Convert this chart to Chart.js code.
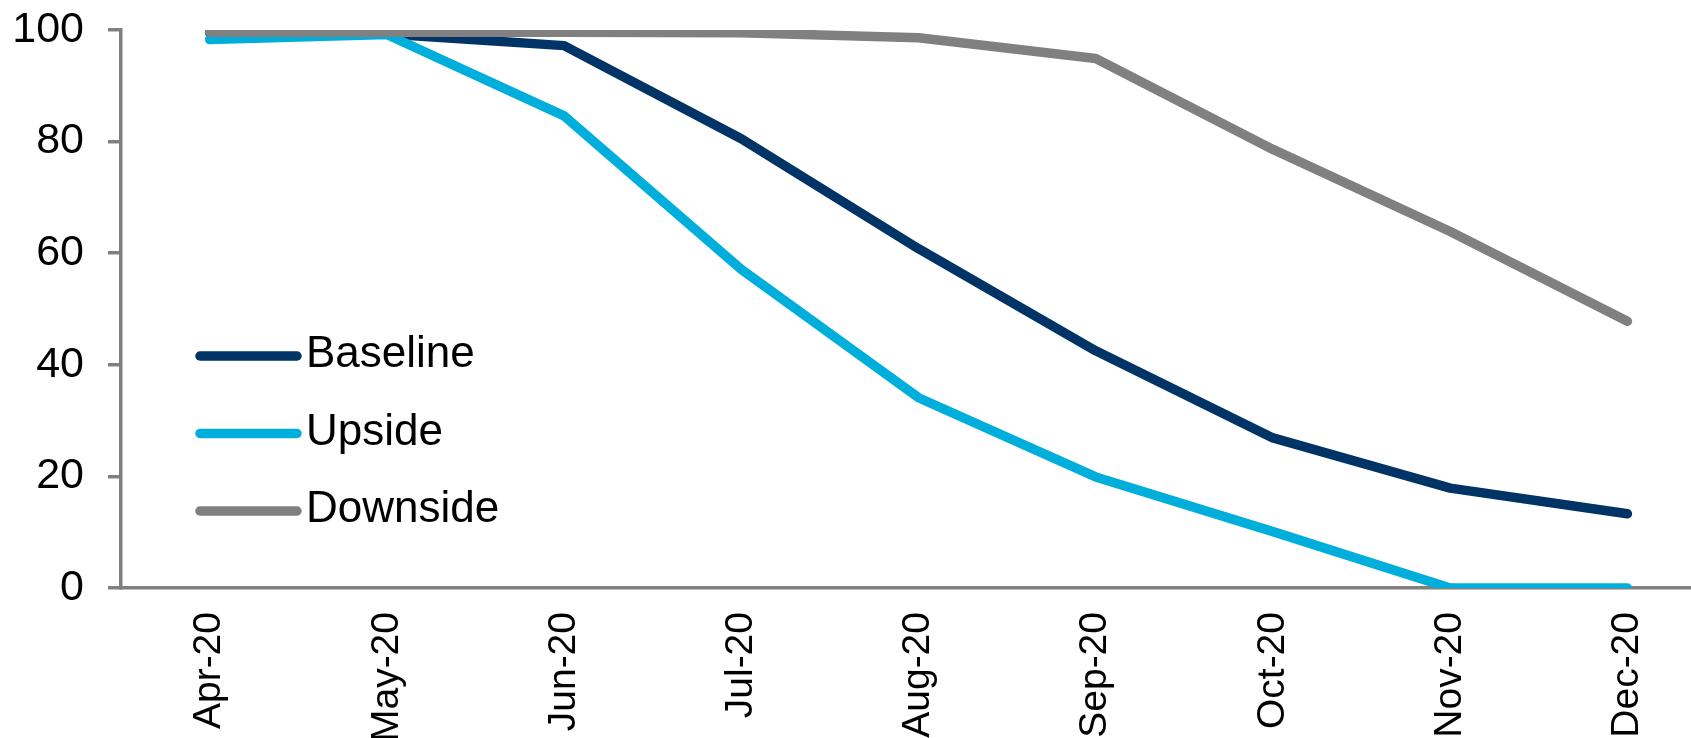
<!DOCTYPE html>
<html>
<head>
<meta charset="utf-8">
<script src="https://cdn.jsdelivr.net/npm/chart.js@4/dist/chart.umd.min.js"></script>
<style>
  html, body { margin: 0; padding: 0; background: #fff; overflow: hidden; }
  #wrap { position: relative; width: 1716px; height: 738px; }
</style>
</head>
<body>
<div id="wrap"><canvas id="c" width="1716" height="738"></canvas></div>
<script>
// Months on the category axis
const months = ['Apr-20', 'May-20', 'Jun-20', 'Jul-20', 'Aug-20', 'Sep-20', 'Oct-20', 'Nov-20', 'Dec-20'];

// Scenario paths (index level)
const baseline = [99.5, 99.3, 97.2, 80.5, 60.8, 42.5, 26.9, 17.9, 13.3];
const upside   = [98.3, 99.2, 84.6, 57.1, 34.1, 19.9, 10.1, 0, 0];
const downside = [99.6, 99.6, 99.6, 99.5, 98.6, 94.9, 78.6, 63.9, 47.8];

// Value axis tick values
const yTicks = [0, 20, 40, 60, 80, 100];

const AXIS_GRAY = '#808080';
const FONT = "'Liberation Sans', Arial, sans-serif";

// Legend drawn inside the plot area, one row per dataset
const insideLegend = {
  id: 'insideLegend',
  afterDatasetsDraw(chart, args, opts) {
    const ctx = chart.ctx;
    ctx.save();
    ctx.lineCap = 'round';
    ctx.font = opts.fontSize + 'px ' + FONT;
    ctx.textBaseline = 'middle';
    ctx.textAlign = 'left';
    chart.data.datasets.forEach((ds, i) => {
      const y = opts.top + i * opts.rowGap;
      ctx.strokeStyle = ds.borderColor;
      ctx.lineWidth = ds.borderWidth;
      ctx.beginPath();
      ctx.moveTo(opts.lineX0, y);
      ctx.lineTo(opts.lineX1, y);
      ctx.stroke();
      ctx.fillStyle = '#000';
      ctx.fillText(ds.label, opts.textX, y - 1);
    });
    ctx.restore();
  }
};

const ds = (label, data, color, order) => ({
  label, data, order,
  borderColor: color,
  backgroundColor: color,
  borderWidth: 9.5,
  borderCapStyle: 'round',
  borderJoinStyle: 'round',
  pointRadius: 0,
  pointHoverRadius: 0,
  tension: 0,
  fill: false
});

new Chart(document.getElementById('c'), {
  type: 'line',
  data: {
    labels: months,
    datasets: [
      ds('Baseline', baseline, '#003366', 2),
      ds('Upside', upside, '#00AEDB', 1),
      ds('Downside', downside, '#808080', 0)
    ]
  },
  options: {
    responsive: false,
    animation: false,
    devicePixelRatio: 1,
    layout: { padding: { top: 30, right: 0, bottom: 0, left: 0 } },
    plugins: {
      legend: { display: false },
      tooltip: { enabled: false },
      insideLegend: { lineX0: 200, lineX1: 297, textX: 306, top: 356, rowGap: 77.5, fontSize: 44 }
    },
    scales: {
      x: {
        type: 'category',
        offset: true,
        grid: { display: false, drawTicks: false, drawOnChartArea: false },
        border: { display: true, color: AXIS_GRAY, width: 3.5 },
        ticks: {
          color: '#000',
          font: { family: FONT, size: 39 },
          minRotation: 90,
          maxRotation: 90,
          padding: 24,
          autoSkip: false
        },
        afterFit(scale) {
          scale.height = 150;
          scale.paddingLeft = 0;
          scale.paddingRight = 0;
        }
      },
      y: {
        min: 0,
        max: 100,
        afterBuildTicks(scale) { scale.ticks = yTicks.map(v => ({ value: v })); },
        grid: {
          display: true,
          drawOnChartArea: false,
          drawTicks: true,
          tickLength: 13,
          color: AXIS_GRAY,
          lineWidth: 3.5
        },
        border: { display: true, color: AXIS_GRAY, width: 3.5 },
        ticks: {
          color: '#000',
          font: { family: FONT, size: 43 },
          padding: 24
        },
        afterFit(scale) {
          scale.width = 121;
          scale.paddingTop = 0;
          scale.paddingBottom = 0;
        }
      }
    }
  },
  plugins: [insideLegend]
});
</script>
</body>
</html>
